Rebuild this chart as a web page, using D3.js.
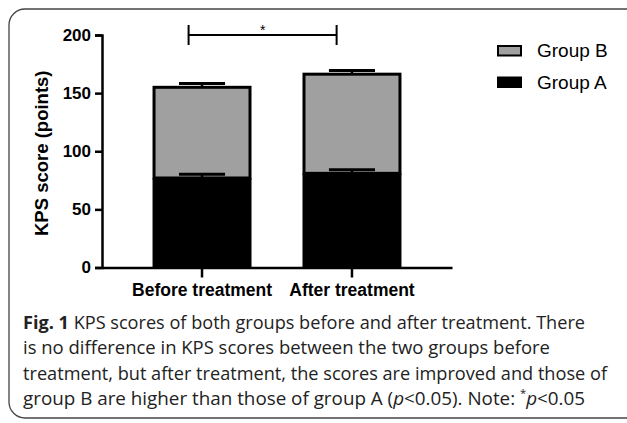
<!DOCTYPE html>
<html>
<head>
<meta charset="utf-8">
<script src="https://cdn.jsdelivr.net/npm/d3@7"></script>
<style>
    body { margin: 0; background: #fff; }
    svg { display: block; }
</style>
</head>
<body>
<div id="chart"></div>
<script>
// data
const categories = ["Before treatment", "After treatment"];
const groupA = [77, 81];        // bottom segment
const groupB = [78, 85.3];      // stacked on top of A
const errA = [3.3, 3.1];
const errB = [3.3, 3.2];
const yTicks = [0, 50, 100, 150, 200];
const seriesNames = ["Group B", "Group A"];

const width = 627, height = 423;

const svg = d3.select("#chart").append("svg")
    .attr("width", width)
    .attr("height", height);

// rounded frame around figure + caption
svg.append("rect")
    .attr("x", 9).attr("y", 9)
    .attr("width", 640).attr("height", 409)
    .attr("rx", 16)
    .attr("fill", "none")
    .attr("stroke", "#444")
    .attr("stroke-width", 1.3);

const x = d3.scaleBand()
    .domain(categories)
    .range([102, 452])
    .paddingInner(0.36)
    .paddingOuter(0.347);

const y = d3.scaleLinear()
    .domain([0, 200])
    .range([267.5, 35]);

const font = "Liberation Sans, Arial, sans-serif";

// y axis
const yAxis = svg.append("g")
    .attr("transform", "translate(102,0)")
    .call(d3.axisLeft(y).tickValues(yTicks).tickSize(7).tickPadding(4));
yAxis.select(".domain").attr("stroke-width", 2.5);
yAxis.selectAll(".tick line").attr("stroke-width", 2.5);
yAxis.selectAll(".tick text")
    .attr("font-family", font)
    .attr("font-weight", "bold")
    .attr("font-size", 17)
    .attr("fill", "#000");

// x axis
const xAxis = svg.append("g")
    .attr("transform", `translate(0,${y(0)})`)
    .call(d3.axisBottom(x).tickSize(10).tickPadding(6).tickSizeOuter(0));
xAxis.select(".domain").attr("stroke-width", 2.5);
xAxis.selectAll(".tick line").attr("stroke-width", 2.5);
xAxis.selectAll(".tick text")
    .attr("font-family", font)
    .attr("font-weight", "bold")
    .attr("font-size", 17.5)
    .attr("fill", "#000");

// y title
svg.append("text")
    .attr("transform", `translate(48,${(y(0) + y(200)) / 2 + 2}) rotate(-90)`)
    .attr("text-anchor", "middle")
    .attr("font-family", font)
    .attr("font-weight", "bold")
    .attr("font-size", 18.5)
    .text("KPS score (points)");

const bw = x.bandwidth();
const capW = bw * 0.48;

// bars
const bars = svg.append("g");
categories.forEach((c, i) => {
    const total = groupA[i] + groupB[i];
    // group B segment
    bars.append("rect")
        .attr("x", x(c))
        .attr("y", y(total))
        .attr("width", bw)
        .attr("height", y(groupA[i]) - y(total))
        .attr("fill", "#a0a0a0")
        .attr("stroke", "#000")
        .attr("stroke-width", 3);
    // group A segment
    bars.append("rect")
        .attr("x", x(c) - 1.5)
        .attr("y", y(groupA[i]))
        .attr("width", bw + 3)
        .attr("height", y(0) - y(groupA[i]))
        .attr("fill", "#000");

    // error bars (upward only)
    const cx = x(c) + bw / 2;
    [[groupA[i], errA[i]], [total, errB[i]]].forEach(([v, e]) => {
        bars.append("line")
            .attr("x1", cx).attr("x2", cx)
            .attr("y1", y(v)).attr("y2", y(v + e))
            .attr("stroke", "#000").attr("stroke-width", 2.5);
        bars.append("line")
            .attr("x1", cx - capW / 2).attr("x2", cx + capW / 2)
            .attr("y1", y(v + e)).attr("y2", y(v + e))
            .attr("stroke", "#000").attr("stroke-width", 3);
    });
});

// significance bracket
const bx1 = x(categories[0]) + bw * 0.36;
const bx2 = x(categories[1]) + bw * 0.34;
const by = y(200);
const sig = svg.append("g").attr("stroke", "#000").attr("stroke-width", 2);
sig.append("line").attr("x1", bx1).attr("x2", bx2).attr("y1", by).attr("y2", by);
sig.append("line").attr("x1", bx1).attr("x2", bx1).attr("y1", by - 10).attr("y2", by + 10);
sig.append("line").attr("x1", bx2).attr("x2", bx2).attr("y1", by - 10).attr("y2", by + 10);
svg.append("text")
    .attr("x", (bx1 + bx2) / 2)
    .attr("y", by - 0.5)
    .attr("text-anchor", "middle")
    .attr("font-family", font)
    .attr("font-size", 14)
    .text("*");

// legend
const legend = svg.append("g").attr("transform", "translate(497,45)");
seriesNames.forEach((name, i) => {
    const g = legend.append("g").attr("transform", `translate(0,${i * 31.5})`);
    g.append("rect")
        .attr("x", 1).attr("y", 1)
        .attr("width", 23).attr("height", 9.5)
        .attr("fill", name === "Group B" ? "#a0a0a0" : "#000")
        .attr("stroke", "#000")
        .attr("stroke-width", 2);
    g.append("text")
        .attr("x", 40)
        .attr("y", 12)
        .attr("font-family", font)
        .attr("font-size", 19)
        .text(name);
});

// caption
const capFont = "'Open Sans', 'Noto Sans', sans-serif";
const capLines = [
    { y: 328.5, w: 562, parts: [["Fig. 1", "bold"], [" KPS scores of both groups before and after treatment. There"]] },
    { y: 354, w: 527, parts: [["is no difference in KPS scores between the two groups before"]] },
    { y: 379.5, w: 584, parts: [["treatment, but after treatment, the scores are improved and those of"]] },
    { y: 405, w: 562, parts: [["group B are higher than those of group A ("], ["p", "italic"], ["<0.05). Note: "], ["*", "sup"], ["p", "italic"], ["<0.05"]] }
];
const caption = svg.append("g").attr("font-family", capFont).attr("font-size", 18.5).attr("fill", "#222");
capLines.forEach(line => {
    const t = caption.append("text")
        .attr("x", 23)
        .attr("y", line.y)
        .attr("textLength", line.w)
        .attr("lengthAdjust", "spacingAndGlyphs");
    let afterSup = false;
    line.parts.forEach(([s, style]) => {
        const ts = t.append("tspan").text(s);
        if (style === "bold") ts.attr("font-weight", "bold");
        if (style === "italic") ts.attr("font-style", "italic");
        if (afterSup) { ts.attr("dy", 8); afterSup = false; }
        if (style === "sup") { ts.attr("font-size", 11).attr("dy", -8); afterSup = true; }
    });
});
</script>
</body>
</html>
